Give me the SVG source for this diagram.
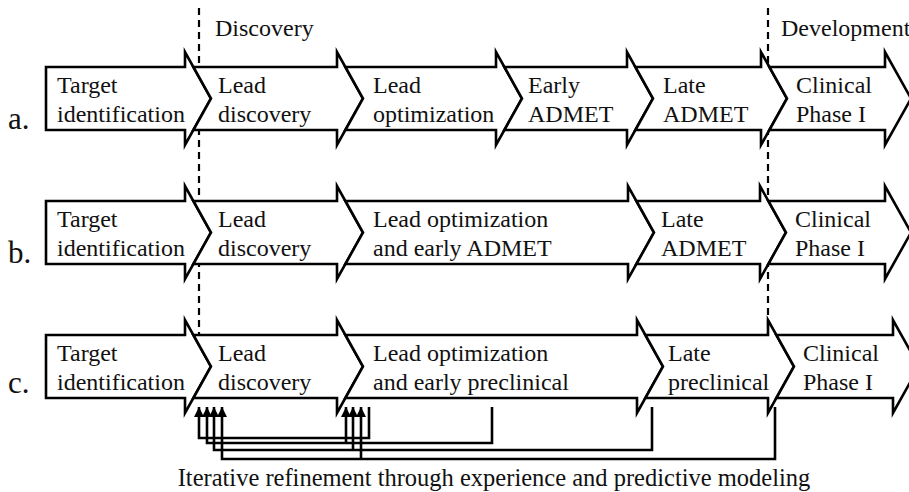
<svg xmlns="http://www.w3.org/2000/svg" width="909" height="492" viewBox="0 0 909 492">
<defs>
<style>
.stage{fill:#fff;stroke:#000;stroke-width:2.6;stroke-linejoin:miter}
.t{font-family:"Liberation Serif","Times New Roman",serif;font-size:24px;fill:#111}
.lab{font-family:"Liberation Serif","Times New Roman",serif;font-size:31px;fill:#111}
.dash{stroke:#000;stroke-width:2.2;stroke-dasharray:7 5;fill:none}
.fb{stroke:#000;stroke-width:2.6;fill:none}
</style>
<marker id="ah" viewBox="0 0 10 10" refX="10" refY="5" markerWidth="4" markerHeight="4" orient="auto" markerUnits="strokeWidth">
<path d="M0,0 L10,5 L0,10 z" fill="#000"/>
</marker>
</defs>
<rect width="909" height="492" fill="#fff"/>

<g id="phase-lines">
<line class="dash" x1="199" y1="8" x2="199" y2="335"/>
<line class="dash" x1="768" y1="8" x2="768" y2="335"/>
<text class="t" x="215" y="36">Discovery</text>
<text class="t" x="781" y="36">Development</text>
</g>

<g id="row-a">
<text class="lab" x="8" y="129">a.</text>
<g id="a1"><polygon class="stage" points="46,67 185,67 185,52 211,98.5 185,145 185,130 46,130"/>
<text class="t" x="57" y="93">Target</text><text class="t" x="57" y="122">identification</text></g>
<g id="a2"><polygon class="stage" points="193.4,67 337,67 337,52 363,98.5 337,145 337,130 193.4,130 211,98.5"/>
<text class="t" x="218" y="93">Lead</text><text class="t" x="218" y="122">discovery</text></g>
<g id="a3"><polygon class="stage" points="345.4,67 496,67 496,52 522,98.5 496,145 496,130 345.4,130 363,98.5"/>
<text class="t" x="373" y="93">Lead</text><text class="t" x="373" y="122">optimization</text></g>
<g id="a4"><polygon class="stage" points="504.4,67 627,67 627,52 653,98.5 627,145 627,130 504.4,130 522,98.5"/>
<text class="t" x="528" y="93">Early</text><text class="t" x="528" y="122">ADMET</text></g>
<g id="a5"><polygon class="stage" points="635.4,67 761,67 761,52 787,98.5 761,145 761,130 635.4,130 653,98.5"/>
<text class="t" x="663" y="93">Late</text><text class="t" x="663" y="122">ADMET</text></g>
<g id="a6"><polygon class="stage" points="769.4,67 885,67 885,52 911,98.5 885,145 885,130 769.4,130 787,98.5"/>
<text class="t" x="796" y="93">Clinical</text><text class="t" x="796" y="122">Phase I</text></g>
</g>

<g id="row-b">
<text class="lab" x="8" y="263">b.</text>
<g id="b1"><polygon class="stage" points="46,201 185,201 185,186 211,232.5 185,279 185,264 46,264"/>
<text class="t" x="57" y="227">Target</text><text class="t" x="57" y="256">identification</text></g>
<g id="b2"><polygon class="stage" points="193.4,201 337,201 337,186 363,232.5 337,279 337,264 193.4,264 211,232.5"/>
<text class="t" x="218" y="227">Lead</text><text class="t" x="218" y="256">discovery</text></g>
<g id="b3"><polygon class="stage" points="345.4,201 628,201 628,186 654,232.5 628,279 628,264 345.4,264 363,232.5"/>
<text class="t" x="373" y="227">Lead optimization</text><text class="t" x="373" y="256">and early ADMET</text></g>
<g id="b4"><polygon class="stage" points="636.4,201 760,201 760,186 786,232.5 760,279 760,264 636.4,264 654,232.5"/>
<text class="t" x="661" y="227">Late</text><text class="t" x="661" y="256">ADMET</text></g>
<g id="b5"><polygon class="stage" points="768.4,201 885,201 885,186 911,232.5 885,279 885,264 768.4,264 786,232.5"/>
<text class="t" x="795" y="227">Clinical</text><text class="t" x="795" y="256">Phase I</text></g>
</g>

<g id="row-c">
<text class="lab" x="8" y="393">c.</text>
<g id="c1"><polygon class="stage" points="46,335 185,335 185,320 211,366.5 185,413 185,398 46,398"/>
<text class="t" x="57" y="361">Target</text><text class="t" x="57" y="390">identification</text></g>
<g id="c2"><polygon class="stage" points="193.4,335 337,335 337,320 363,366.5 337,413 337,398 193.4,398 211,366.5"/>
<text class="t" x="218" y="361">Lead</text><text class="t" x="218" y="390">discovery</text></g>
<g id="c3"><polygon class="stage" points="345.4,335 637,335 637,320 663,366.5 637,413 637,398 345.4,398 363,366.5"/>
<text class="t" x="373" y="361">Lead optimization</text><text class="t" x="373" y="390">and early preclinical</text></g>
<g id="c4"><polygon class="stage" points="645.4,335 768,335 768,320 794,366.5 768,413 768,398 645.4,398 663,366.5"/>
<text class="t" x="668" y="361">Late</text><text class="t" x="668" y="390">preclinical</text></g>
<g id="c5"><polygon class="stage" points="776.4,335 893,335 893,320 919,366.5 893,413 893,398 776.4,398 794,366.5"/>
<text class="t" x="803" y="361">Clinical</text><text class="t" x="803" y="390">Phase I</text></g>
</g>

<g id="connectors">
<polyline class="fb" points="369,407 369,438 199,438 199,407" marker-end="url(#ah)"/>
<polyline class="fb" points="492,407 492,443 207,443 207,407" marker-end="url(#ah)"/>
<polyline class="fb" points="346,443 346,407" marker-end="url(#ah)"/>
<polyline class="fb" points="652,407 652,450 214,450 214,407" marker-end="url(#ah)"/>
<polyline class="fb" points="353,450 353,407" marker-end="url(#ah)"/>
<polyline class="fb" points="775,407 775,459 222,459 222,407" marker-end="url(#ah)"/>
<polyline class="fb" points="361,459 361,407" marker-end="url(#ah)"/>
</g>

<text class="t" x="494" y="486" text-anchor="middle" style="font-size:24.5px">Iterative refinement through experience and predictive modeling</text>
</svg>
